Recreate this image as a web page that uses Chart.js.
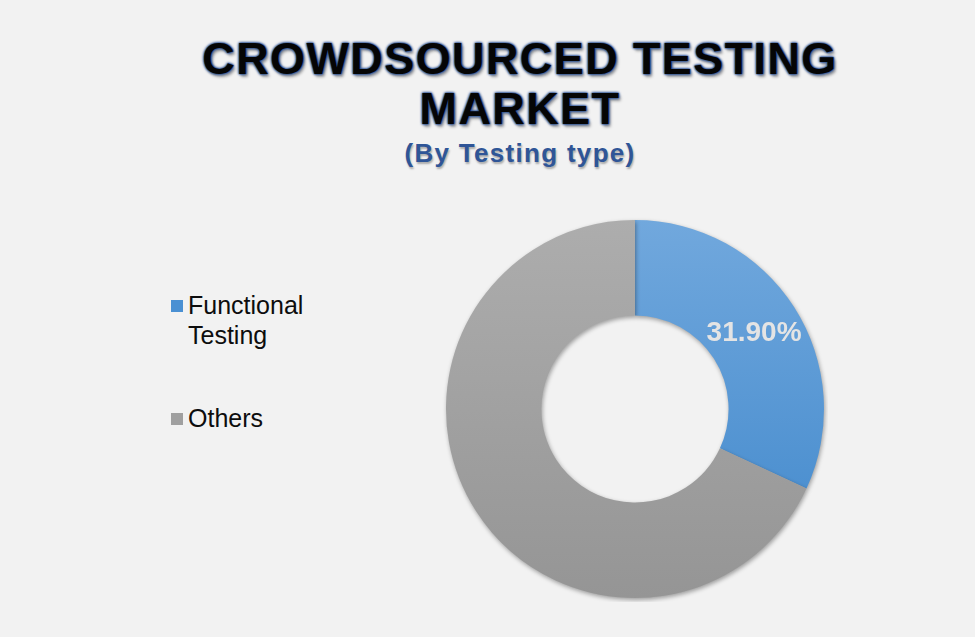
<!DOCTYPE html>
<html lang="en">
<head>
    <meta charset="UTF-8">
    <title>Crowdsourced Testing Market</title>
    <script src="https://cdn.jsdelivr.net/npm/chart.js"></script>
    <style>
        html, body {
            margin: 0;
            padding: 0;
            width: 975px;
            height: 637px;
            background: #f2f2f2;
            overflow: hidden;
            font-family: "Liberation Sans", Arial, sans-serif;
        }
        .title {
            position: absolute;
            left: 120px;
            top: 34px;
            width: 800px;
            text-align: center;
            font-size: 45px;
            line-height: 50px;
            font-weight: bold;
            letter-spacing: 1.4px;
            color: #050505;
            text-shadow: 0 0 1px #2f5597, 0 0 2px #2f5597, 0 0 3px #2f5597, 0 0 3px #2f5597, 2px 3px 3px rgba(0, 0, 0, 0.35);
        }
        .subtitle {
            position: absolute;
            left: 120px;
            top: 138px;
            width: 800px;
            text-align: center;
            font-size: 26px;
            line-height: 30px;
            font-weight: bold;
            letter-spacing: 1.3px;
            color: #2f5597;
            text-shadow: 1px 2px 2px rgba(0, 0, 0, 0.3);
        }
        .legend {
            position: absolute;
            left: 171px;
            top: 290px;
        }
        .legend-item {
            position: relative;
            padding-left: 17px;
            width: 140px;
            font-size: 25px;
            line-height: 30px;
            color: #0d0d0d;
            margin-bottom: 53px;
        }
        .legend-item span {
            position: absolute;
            left: 0;
            top: 10px;
            width: 12px;
            height: 12px;
        }
        .chart-box {
            position: absolute;
            left: 442px;
            top: 216px;
            width: 386px;
            height: 386px;
        }
    </style>
</head>
<body>
    <div class="title">CROWDSOURCED TESTING<br>MARKET</div>
    <div class="subtitle">(By Testing type)</div>
    <div class="legend" id="legend"></div>
    <div class="chart-box">
        <canvas id="marketChart"></canvas>
    </div>

    <script>
        const categories = ['Functional Testing', 'Others'];
        const shares = [31.9, 68.1];
        const showShare = [true, false];
        const colorsTop = ['#71a8dd', '#adadad'];
        const colorsBottom = ['#3f87cb', '#959595'];
        const swatches = ['#4a90d3', '#a0a0a0'];

        // legend on the left, built from the same arrays
        const legend = document.getElementById('legend');
        categories.forEach((name, i) => {
            const item = document.createElement('div');
            item.className = 'legend-item';
            const box = document.createElement('span');
            box.style.background = swatches[i];
            item.appendChild(box);
            item.appendChild(document.createTextNode(name));
            legend.appendChild(item);
        });

        const shadowPlugin = {
            id: 'arcShadow',
            beforeDatasetsDraw(chart) {
                const ctx = chart.ctx;
                ctx.save();
                ctx.shadowColor = 'rgba(0, 0, 0, 0.35)';
                ctx.shadowBlur = 4;
                ctx.shadowOffsetX = 1;
                ctx.shadowOffsetY = 2;
            },
            afterDatasetsDraw(chart) {
                chart.ctx.restore();
            }
        };

        const sharePlugin = {
            id: 'shareLabels',
            afterDraw(chart) {
                const ctx = chart.ctx;
                const meta = chart.getDatasetMeta(0);
                ctx.save();
                ctx.font = 'bold 28px "Liberation Sans", Arial, sans-serif';
                ctx.fillStyle = '#e4e4e4';
                ctx.textAlign = 'center';
                ctx.textBaseline = 'middle';
                meta.data.forEach((arc, i) => {
                    if (!showShare[i]) return;
                    const pos = arc.tooltipPosition();
                    ctx.fillText(shares[i].toFixed(2) + '%', pos.x, pos.y);
                });
                ctx.restore();
            }
        };

        function fillFor(context) {
            const chart = context.chart;
            const area = chart.chartArea;
            if (!area) return colorsTop[context.dataIndex];
            const g = chart.ctx.createLinearGradient(0, area.top, 0, area.bottom);
            g.addColorStop(0, colorsTop[context.dataIndex]);
            g.addColorStop(1, colorsBottom[context.dataIndex]);
            return g;
        }

        const ctx = document.getElementById('marketChart').getContext('2d');
        new Chart(ctx, {
            type: 'doughnut',
            data: {
                labels: categories,
                datasets: [{
                    data: shares,
                    backgroundColor: fillFor,
                    borderWidth: 0
                }]
            },
            options: {
                responsive: true,
                maintainAspectRatio: false,
                animation: false,
                cutout: '49.5%',
                layout: { padding: 4 },
                plugins: {
                    legend: { display: false },
                    tooltip: { enabled: false }
                }
            },
            plugins: [shadowPlugin, sharePlugin]
        });
    </script>
</body>
</html>
